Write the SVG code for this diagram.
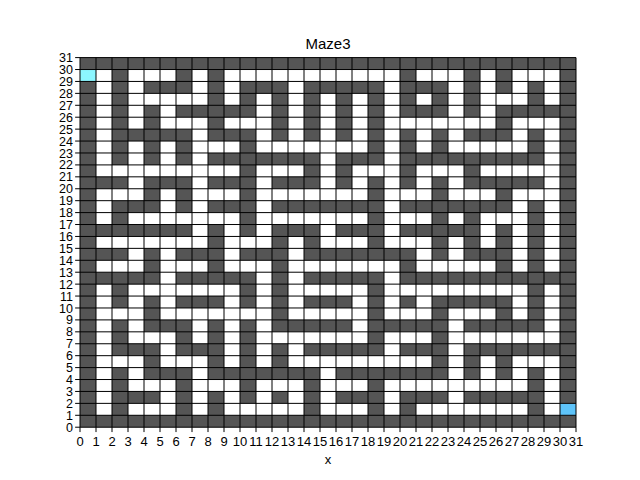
<svg xmlns="http://www.w3.org/2000/svg" width="640" height="480" viewBox="0 0 640 480">
<style>
.t{font-family:"Liberation Sans","DejaVu Sans",sans-serif;font-size:13px;fill:#000}
.yl{text-anchor:end;font-size:12.5px}
.xl{text-anchor:middle}
.ns{vector-effect:non-scaling-stroke}
</style>
<rect width="640" height="480" fill="#fff"/>
<g transform="translate(80,57.6) scale(16,11.923)">
<path fill="none" stroke="#555555" stroke-width="1" d="M0 0.5h31M2 1.5h1M6 1.5h1M8 1.5h1M20 1.5h1M24 1.5h1M26 1.5h1M30 1.5h1M0 2.5h1M2 2.5h1M4 2.5h3M8 2.5h1M10 2.5h3M14 2.5h5M20 2.5h3M24 2.5h1M26 2.5h1M28 2.5h1M30 2.5h1M0 3.5h1M2 3.5h1M8 3.5h1M10 3.5h1M12 3.5h1M14 3.5h1M16 3.5h1M18 3.5h1M20 3.5h1M22 3.5h1M24 3.5h1M28 3.5h1M30 3.5h1M0 4.5h1M2 4.5h1M4 4.5h1M6 4.5h5M12 4.5h1M14 4.5h1M16 4.5h1M18 4.5h1M20 4.5h3M24 4.5h1M26 4.5h5M0 5.5h1M2 5.5h1M4 5.5h1M8 5.5h1M12 5.5h1M14 5.5h1M16 5.5h1M18 5.5h1M26 5.5h1M30 5.5h1M0 6.5h1M2 6.5h5M8 6.5h3M12 6.5h1M14 6.5h1M16 6.5h1M18 6.5h1M20 6.5h1M22 6.5h1M24 6.5h3M28 6.5h1M30 6.5h1M0 7.5h1M2 7.5h1M4 7.5h1M6 7.5h1M10 7.5h1M18 7.5h1M20 7.5h1M22 7.5h1M28 7.5h1M30 7.5h1M0 8.5h1M2 8.5h1M4 8.5h1M6 8.5h1M8 8.5h7M16 8.5h3M20 8.5h9M30 8.5h1M0 9.5h1M10 9.5h1M14 9.5h1M16 9.5h1M20 9.5h1M24 9.5h1M30 9.5h1M0 10.5h3M4 10.5h3M8 10.5h3M12 10.5h3M16 10.5h1M18 10.5h1M20 10.5h1M22 10.5h1M24 10.5h5M30 10.5h1M0 11.5h1M4 11.5h1M6 11.5h1M10 11.5h1M18 11.5h1M22 11.5h1M26 11.5h1M30 11.5h1M0 12.5h1M2 12.5h3M6 12.5h1M8 12.5h3M12 12.5h7M20 12.5h7M28 12.5h1M30 12.5h1M0 13.5h1M2 13.5h1M10 13.5h1M18 13.5h1M22 13.5h1M24 13.5h1M28 13.5h1M30 13.5h1M0 14.5h7M8 14.5h1M10 14.5h1M12 14.5h3M16 14.5h3M20 14.5h5M26 14.5h1M28 14.5h1M30 14.5h1M0 15.5h1M8 15.5h1M12 15.5h1M14 15.5h1M18 15.5h1M22 15.5h1M24 15.5h1M26 15.5h1M28 15.5h1M30 15.5h1M0 16.5h3M4 16.5h1M6 16.5h3M10 16.5h3M14 16.5h7M22 16.5h1M24 16.5h3M28 16.5h1M30 16.5h1M0 17.5h1M4 17.5h1M8 17.5h1M12 17.5h1M20 17.5h1M26 17.5h1M28 17.5h1M30 17.5h1M0 18.5h5M6 18.5h5M12 18.5h1M14 18.5h5M20 18.5h11M0 19.5h1M2 19.5h1M10 19.5h1M12 19.5h1M18 19.5h1M28 19.5h1M30 19.5h1M0 20.5h1M2 20.5h1M4 20.5h1M6 20.5h3M10 20.5h1M12 20.5h1M14 20.5h3M18 20.5h1M20 20.5h1M22 20.5h5M28 20.5h1M30 20.5h1M0 21.5h1M4 21.5h1M12 21.5h1M18 21.5h1M22 21.5h1M26 21.5h1M28 21.5h1M30 21.5h1M0 22.5h1M2 22.5h1M4 22.5h3M8 22.5h1M10 22.5h1M12 22.5h5M18 22.5h5M24 22.5h5M30 22.5h1M0 23.5h1M2 23.5h1M6 23.5h1M8 23.5h1M10 23.5h1M18 23.5h1M22 23.5h1M30 23.5h1M0 24.5h1M2 24.5h3M6 24.5h3M10 24.5h1M12 24.5h1M14 24.5h5M20 24.5h3M24 24.5h7M0 25.5h1M4 25.5h1M8 25.5h1M10 25.5h1M12 25.5h1M22 25.5h1M24 25.5h1M26 25.5h1M30 25.5h1M0 26.5h1M2 26.5h1M4 26.5h3M8 26.5h7M16 26.5h7M24 26.5h1M26 26.5h1M28 26.5h1M30 26.5h1M0 27.5h1M2 27.5h1M6 27.5h1M10 27.5h1M14 27.5h1M18 27.5h1M28 27.5h1M30 27.5h1M0 28.5h1M2 28.5h3M6 28.5h1M8 28.5h1M10 28.5h1M12 28.5h1M14 28.5h1M16 28.5h3M20 28.5h3M24 28.5h5M30 28.5h1M0 29.5h1M2 29.5h1M6 29.5h1M8 29.5h1M14 29.5h1M18 29.5h1M20 29.5h1M28 29.5h1M0 30.5h31"/>
<path fill="none" stroke="#8cf6ff" stroke-width="1" d="M0 1.5h1"/>
<path fill="none" stroke="#5ec4fa" stroke-width="1" d="M30 29.5h1"/>
<path class="ns" fill="none" stroke="#000" stroke-width="1" d="M0 0V31M1 0V31M2 0V31M3 0V31M4 0V31M5 0V31M6 0V31M7 0V31M8 0V31M9 0V31M10 0V31M11 0V31M12 0V31M13 0V31M14 0V31M15 0V31M16 0V31M17 0V31M18 0V31M19 0V31M20 0V31M21 0V31M22 0V31M23 0V31M24 0V31M25 0V31M26 0V31M27 0V31M28 0V31M29 0V31M30 0V31M31 0V31M0 0H31M0 1H31M0 2H31M0 3H31M0 4H31M0 5H31M0 6H31M0 7H31M0 8H31M0 9H31M0 10H31M0 11H31M0 12H31M0 13H31M0 14H31M0 15H31M0 16H31M0 17H31M0 18H31M0 19H31M0 20H31M0 21H31M0 22H31M0 23H31M0 24H31M0 25H31M0 26H31M0 27H31M0 28H31M0 29H31M0 30H31M0 31H31"/>
<path class="ns" fill="none" stroke="#000" stroke-width="1" d="M-0.304 0H0M-0.304 1H0M-0.304 2H0M-0.304 3H0M-0.304 4H0M-0.304 5H0M-0.304 6H0M-0.304 7H0M-0.304 8H0M-0.304 9H0M-0.304 10H0M-0.304 11H0M-0.304 12H0M-0.304 13H0M-0.304 14H0M-0.304 15H0M-0.304 16H0M-0.304 17H0M-0.304 18H0M-0.304 19H0M-0.304 20H0M-0.304 21H0M-0.304 22H0M-0.304 23H0M-0.304 24H0M-0.304 25H0M-0.304 26H0M-0.304 27H0M-0.304 28H0M-0.304 29H0M-0.304 30H0M-0.304 31H0M0 31v0.408M1 31v0.408M2 31v0.408M3 31v0.408M4 31v0.408M5 31v0.408M6 31v0.408M7 31v0.408M8 31v0.408M9 31v0.408M10 31v0.408M11 31v0.408M12 31v0.408M13 31v0.408M14 31v0.408M15 31v0.408M16 31v0.408M17 31v0.408M18 31v0.408M19 31v0.408M20 31v0.408M21 31v0.408M22 31v0.408M23 31v0.408M24 31v0.408M25 31v0.408M26 31v0.408M27 31v0.408M28 31v0.408M29 31v0.408M30 31v0.408M31 31v0.408"/>
</g>
<g class="t yl">
<text x="73" y="431.7">0</text><text x="73" y="419.8">1</text><text x="73" y="407.9">2</text><text x="73" y="395.9">3</text><text x="73" y="384">4</text><text x="73" y="372.1">5</text><text x="73" y="360.2">6</text><text x="73" y="348.3">7</text><text x="73" y="336.3">8</text><text x="73" y="324.4">9</text><text x="73" y="312.5">10</text><text x="73" y="300.6">11</text><text x="73" y="288.6">12</text><text x="73" y="276.7">13</text><text x="73" y="264.8">14</text><text x="73" y="252.9">15</text><text x="73" y="240.9">16</text><text x="73" y="229">17</text><text x="73" y="217.1">18</text><text x="73" y="205.2">19</text><text x="73" y="193.3">20</text><text x="73" y="181.3">21</text><text x="73" y="169.4">22</text><text x="73" y="157.5">23</text><text x="73" y="145.6">24</text><text x="73" y="133.6">25</text><text x="73" y="121.7">26</text><text x="73" y="109.8">27</text><text x="73" y="97.9">28</text><text x="73" y="85.9">29</text><text x="73" y="74">30</text><text x="73" y="62.1">31</text>
</g>
<g class="t xl">
<text x="80" y="446">0</text><text x="96" y="446">1</text><text x="112" y="446">2</text><text x="128" y="446">3</text><text x="144" y="446">4</text><text x="160" y="446">5</text><text x="176" y="446">6</text><text x="192" y="446">7</text><text x="208" y="446">8</text><text x="224" y="446">9</text><text x="240" y="446">10</text><text x="256" y="446">11</text><text x="272" y="446">12</text><text x="288" y="446">13</text><text x="304" y="446">14</text><text x="320" y="446">15</text><text x="336" y="446">16</text><text x="352" y="446">17</text><text x="368" y="446">18</text><text x="384" y="446">19</text><text x="400" y="446">20</text><text x="416" y="446">21</text><text x="432" y="446">22</text><text x="448" y="446">23</text><text x="464" y="446">24</text><text x="480" y="446">25</text><text x="496" y="446">26</text><text x="512" y="446">27</text><text x="528" y="446">28</text><text x="544" y="446">29</text><text x="560" y="446">30</text><text x="576" y="446">31</text>
<text x="328" y="464">x</text>
<text x="328" y="49" style="font-size:15px">Maze3</text>
</g>
</svg>
